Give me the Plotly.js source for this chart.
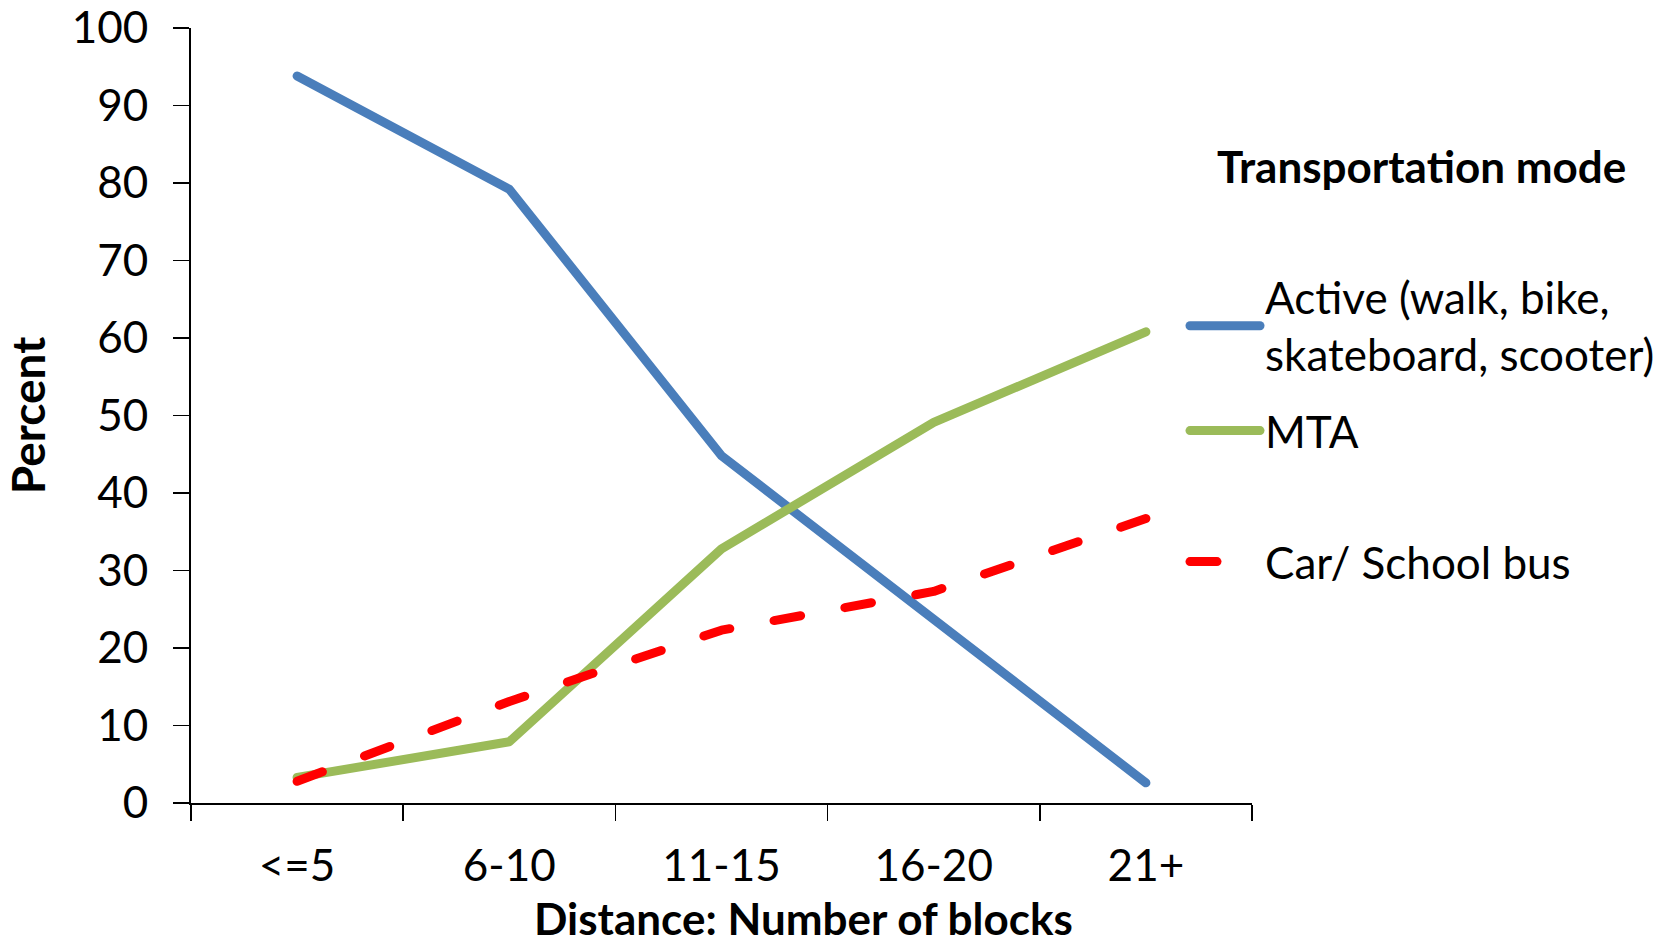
<!DOCTYPE html>
<html>
<head>
<meta charset="utf-8">
<script src="https://cdn.plot.ly/plotly-3.0.1.min.js"></script>
<style>
  html, body { margin: 0; padding: 0; background: #fff; }
  #chart { width: 1677px; height: 947px; }
  .scatterlayer .js-line, .legendlines path { stroke-linecap: round; stroke-linejoin: round; }
</style>
</head>
<body>
<div id="chart"></div>
<script>
const categories = ["<=5", "6-10", "11-15", "16-20", "21+"];
const activeValues = [93.8, 79.2, 44.8, 23.6, 2.6];
const mtaValues = [3.3, 7.9, 32.8, 49.1, 60.8];
const carValues = [2.8, 13.1, 22.3, 27.3, 36.7];
const seriesNames = ["Active (walk, bike,<br>skateboard, scooter)", "MTA", "Car/ School bus"];
const legendTitle = "Transportation mode";
const xTitle = "Distance: Number of blocks";
const yTitle = "Percent";

const FONT = "Lato, 'Open Sans', sans-serif";

// plot area in pixels (used only to convert layout positions to paper fractions)
const PL = 191, PR = 1252, PT = 28, PB = 803;
const fx = px => (px - PL) / (PR - PL);
const fy = py => (PB - py) / (PB - PT);

const traces = [
  { x: categories, y: activeValues, name: seriesNames[0], type: "scatter", mode: "lines",
    line: { color: "#4A7EBB", width: 9 }, legend: "legend" },
  { x: categories, y: mtaValues, name: seriesNames[1], type: "scatter", mode: "lines",
    line: { color: "#9BBB59", width: 9 }, legend: "legend2" },
  { x: categories, y: carValues, name: seriesNames[2], type: "scatter", mode: "lines",
    line: { color: "#FF0000", width: 9, dash: "27px,45px" }, legend: "legend3" }
];

const legendBase = {
  xref: "paper", yref: "paper", x: fx(1185), xanchor: "left", yanchor: "middle",
  bgcolor: "rgba(0,0,0,0)", borderwidth: 0, itemwidth: 70,
  font: { family: FONT, size: 44, color: "#000" }, traceorder: "normal"
};

const layout = {
  width: 1677, height: 947,
  paper_bgcolor: "#fff", plot_bgcolor: "#fff",
  margin: { l: PL, r: 1677 - PR, t: PT, b: 947 - PB, pad: 0 },
  font: { family: FONT, color: "#000" },
  showlegend: true,
  legend: Object.assign({}, legendBase, { y: fy(326) }),
  legend2: Object.assign({}, legendBase, { y: fy(431) }),
  legend3: Object.assign({}, legendBase, { y: fy(562) }),
  xaxis: {
    type: "category", range: [-0.5, 4.5],
    showline: true, linecolor: "#000", linewidth: 2,
    ticks: "outside", tickson: "boundaries", ticklen: 16, tickwidth: 1.5, tickcolor: "#000",
    showgrid: false, zeroline: false,
    tickfont: { family: FONT, size: 44, color: "#000" },
    ticklabelstandoff: 23
  },
  yaxis: {
    range: [0, 100], dtick: 10, tick0: 0,
    showline: true, linecolor: "#000", linewidth: 2,
    ticks: "outside", ticklen: 16, tickwidth: 1.5, tickcolor: "#000",
    showgrid: false, zeroline: false,
    tickfont: { family: FONT, size: 44, color: "#000" },
    ticklabelstandoff: 16,
    title: { text: yTitle, font: { family: FONT, size: 46, color: "#000", weight: "bold" }, standoff: 12 }
  },
  annotations: [
    { text: legendTitle, xref: "paper", yref: "paper", x: fx(1421), y: fy(166),
      xanchor: "center", yanchor: "middle", showarrow: false,
      font: { family: FONT, size: 44, color: "#000", weight: "bold" } },
    { text: xTitle, xref: "paper", yref: "paper", x: fx(803), y: fy(946),
      xanchor: "center", yanchor: "bottom", showarrow: false,
      font: { family: FONT, size: 44, color: "#000", weight: "bold" } }
  ]
};

Plotly.newPlot("chart", traces, layout, { displayModeBar: false, staticPlot: true });
</script>
</body>
</html>
